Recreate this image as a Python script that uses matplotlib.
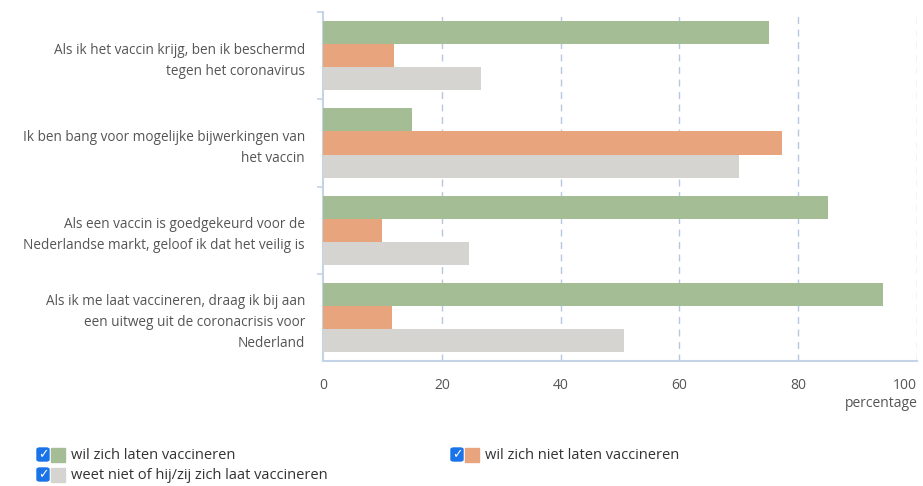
import matplotlib.pyplot as plt
from matplotlib.patches import FancyBboxPatch, Rectangle

# Data
statements = [
    'Als ik het vaccin krijg, ben ik beschermd\ntegen het coronavirus',
    'Ik ben bang voor mogelijke bijwerkingen van\nhet vaccin',
    'Als een vaccin is goedgekeurd voor de\nNederlandse markt, geloof ik dat het veilig is',
    'Als ik me laat vaccineren, draag ik bij aan\neen uitweg uit de coronacrisis voor\nNederland',
]
wel = [75, 15, 85, 94.3]
niet = [12, 77.3, 10, 11.6]
weet_niet = [26.6, 70, 24.5, 50.6]
series_names = ['wil zich laten vaccineren', 'wil zich niet laten vaccineren',
                'weet niet of hij/zij zich laat vaccineren']
xticks = [0, 20, 40, 60, 80, 100]

colors = ['#a5bd95', '#e8a47c', '#d5d4d0']
axis_blue = '#c5d3e6'
text_col = '#555555'
plt.rcParams['font.family'] = ['Open Sans', 'DejaVu Sans']

fig = plt.figure(figsize=(9.23, 4.86), dpi=100)
ax = fig.add_axes([0.35, 0.257, 0.6435, 0.718])

h = 0.264
ypos = list(range(len(statements)))
for i, (vals, c) in enumerate(zip([wel, niet, weet_niet], colors)):
    ax.barh([y + (i - 1) * h for y in ypos], vals, height=h, color=c, zorder=3)

ax.set_xlim(0, 100)
ax.set_ylim(3.5, -0.5)
ax.set_xticks(xticks)
ax.set_xticklabels([str(t) for t in xticks], color=text_col, fontsize=10)
ax.get_xticklabels()[-1].set_ha('right')
ax.get_xticklabels()[-1].set_x(100.5)
ax.tick_params(axis='x', length=0, pad=12)
ax.set_yticks(ypos)
ax.set_yticklabels(statements, color=text_col, fontsize=9.8, linespacing=1.55)
ax.tick_params(axis='y', which='major', length=0, pad=13)
ax.set_yticks([-0.5, 0.5, 1.5, 2.5], minor=True)
ax.tick_params(axis='y', which='minor', length=4, color=axis_blue, width=1.2)

for t in xticks[1:]:
    ax.axvline(t, color='#b7c8de', linestyle=(0, (5, 4)), linewidth=1, zorder=1)

for s in ['top', 'right']:
    ax.spines[s].set_visible(False)
for s in ['left', 'bottom']:
    ax.spines[s].set_color(axis_blue)
    ax.spines[s].set_linewidth(1.5)

fig.text(0.994, 0.17, 'percentage', ha='right', va='center', color=text_col, fontsize=10)

# Legend with checkboxes
W, H = 923, 486
items = [(37, 455, 0), (451, 455, 1), (37, 475, 2)]
for x, y, k in items:
    fig.patches.append(FancyBboxPatch(((x) / W, 1 - (y + 6) / H), 12 / W, 13 / H,
                                      boxstyle='round,pad=0,rounding_size=0.003',
                                      transform=fig.transFigure, color='#1a73e8'))
    fig.text((x + 6) / W, 1 - y / H, '✓', color='white', fontsize=9, fontweight='bold',
             ha='center', va='center', family='DejaVu Sans')
    fig.patches.append(Rectangle(((x + 14) / W, 1 - (y + 7) / H), 14 / W, 14 / H,
                                 transform=fig.transFigure, color=colors[k]))
    fig.text((x + 34) / W, 1 - y / H, series_names[k], color='#333333', fontsize=10.5,
             ha='left', va='center')

fig.savefig('out.png', dpi=100)
